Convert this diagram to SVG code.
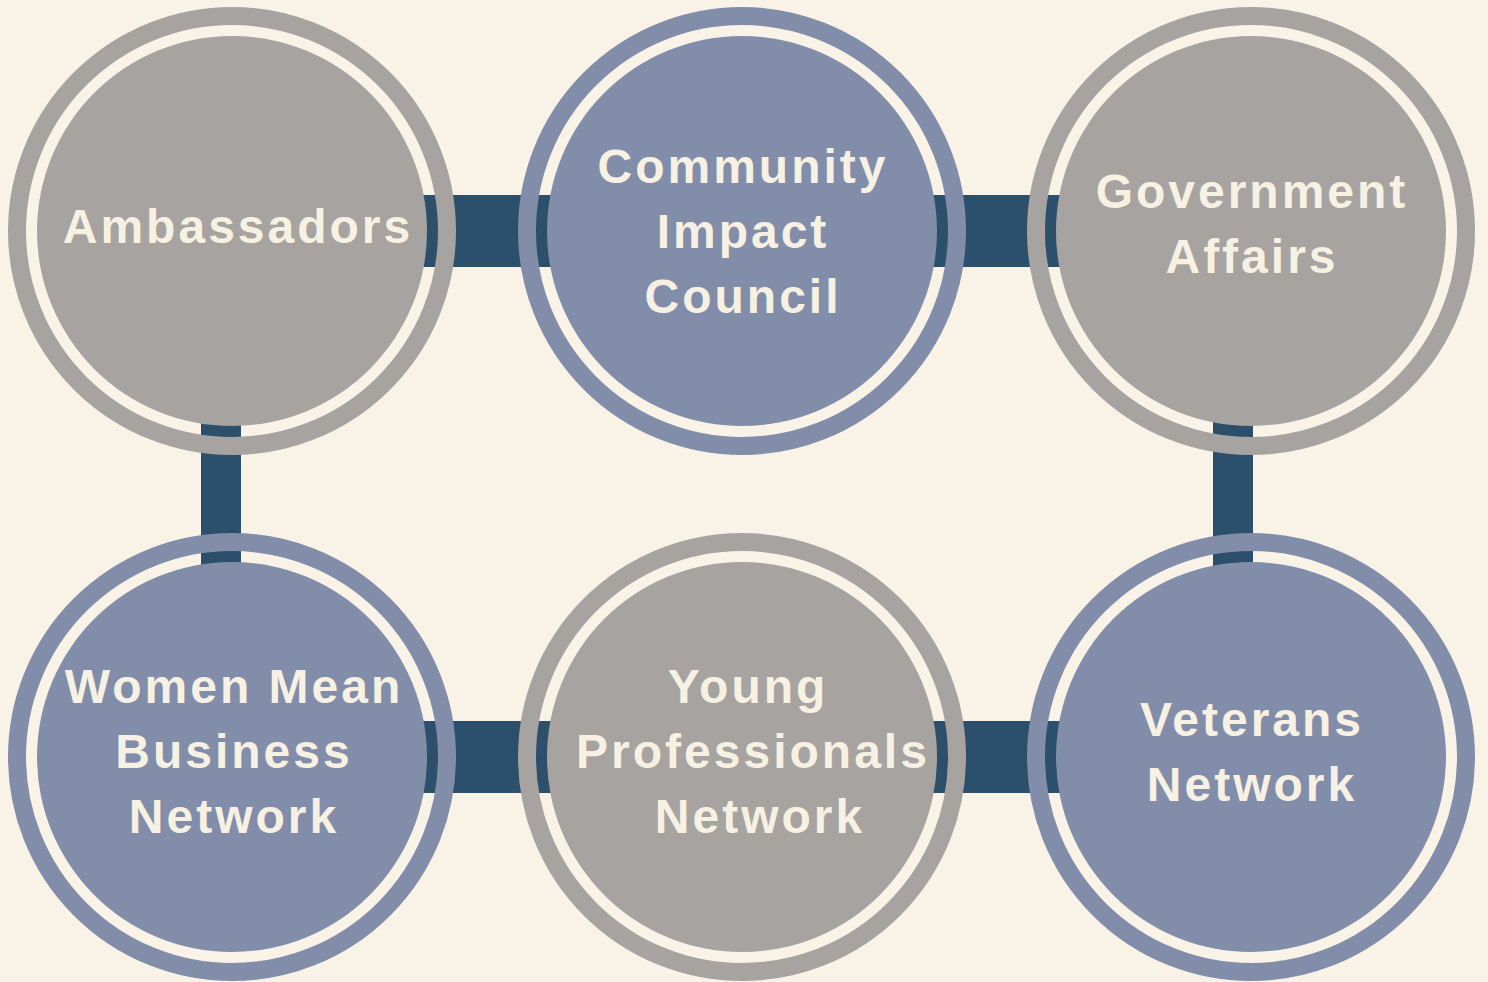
<svg xmlns="http://www.w3.org/2000/svg" width="1488" height="982" viewBox="0 0 1488 982">
<style>
.ring{fill:none;stroke-width:18}
.g .ring{stroke:#A7A3A0}
.g .disk{fill:#A7A3A0}
.b .ring{stroke:#828DAA}
.b .disk{fill:#828DAA}
.lbl{font-family:"Liberation Sans",Arial,sans-serif;font-weight:bold;font-size:48px;letter-spacing:3px;fill:#F6F1E3;text-anchor:middle}
.conn{fill:#2C506B}
</style>
<rect width="1488" height="982" fill="#F8F3E6"/>
<g id="connectors" class="conn">
<rect x="232" y="195" width="1019" height="72"/>
<rect x="232" y="721" width="1019" height="72"/>
<rect x="201" y="231" width="40" height="526"/>
<rect x="1213" y="231" width="40" height="526"/>
</g>
<g id="ambassadors" class="g">
<circle class="ring" cx="232" cy="231" r="215"/>
<circle class="disk" cx="232" cy="231" r="195"/>
<text class="lbl" x="238" y="243">Ambassadors</text>
</g>
<g id="community-impact-council" class="b">
<circle class="ring" cx="742" cy="231" r="215"/>
<circle class="disk" cx="742" cy="231" r="195"/>
<text class="lbl" x="743" y="183">Community</text>
<text class="lbl" x="743" y="248">Impact</text>
<text class="lbl" x="743" y="313">Council</text>
</g>
<g id="government-affairs" class="g">
<circle class="ring" cx="1251" cy="231" r="215"/>
<circle class="disk" cx="1251" cy="231" r="195"/>
<text class="lbl" x="1252" y="208">Government</text>
<text class="lbl" x="1252" y="273">Affairs</text>
</g>
<g id="women-mean-business-network" class="b">
<circle class="ring" cx="232" cy="757" r="215"/>
<circle class="disk" cx="232" cy="757" r="195"/>
<text class="lbl" x="234" y="703">Women Mean</text>
<text class="lbl" x="234" y="768">Business</text>
<text class="lbl" x="234" y="833">Network</text>
</g>
<g id="young-professionals-network" class="g">
<circle class="ring" cx="742" cy="757" r="215"/>
<circle class="disk" cx="742" cy="757" r="195"/>
<text class="lbl" x="748" y="703">Young</text>
<text class="lbl" x="753" y="768">Professionals</text>
<text class="lbl" x="760" y="833">Network</text>
</g>
<g id="veterans-network" class="b">
<circle class="ring" cx="1251" cy="757" r="215"/>
<circle class="disk" cx="1251" cy="757" r="195"/>
<text class="lbl" x="1252" y="736">Veterans</text>
<text class="lbl" x="1252" y="801">Network</text>
</g>
</svg>
